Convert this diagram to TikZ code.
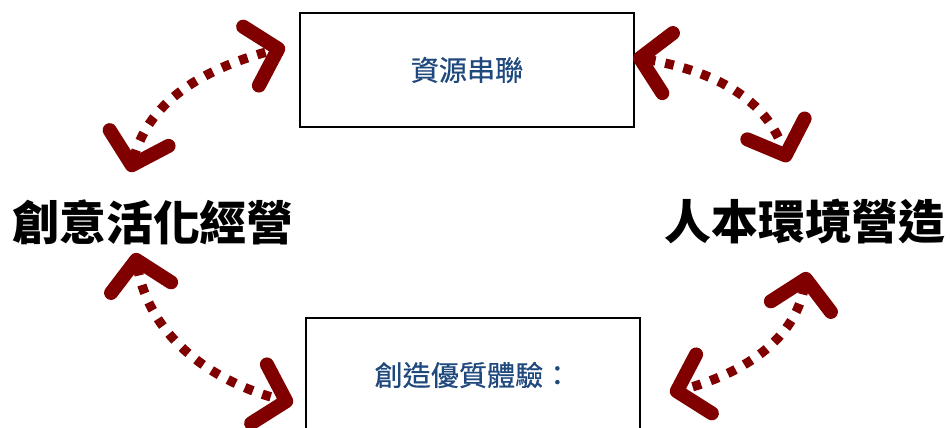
\documentclass[tikz,border=0pt]{standalone}
\usepackage{fontspec}
\newfontfamily\cjk{Noto Sans CJK TC}
\newfontfamily\cjkmed[FakeBold=0.6]{Noto Sans CJK TC}
\usetikzlibrary{arrows.meta}
\definecolor{linkred}{RGB}{128,0,0}
\definecolor{boxblue}{RGB}{31,73,125}
\begin{document}
\begin{tikzpicture}[x=0.03cm,y=0.03cm,
    box/.style={draw,line width=1.7pt,minimum width=10.02cm,minimum height=3.42cm,
      inner sep=0pt,text=boxblue,font=\cjkmed\fontsize{24}{28}\selectfont},
    bigtext/.style={inner sep=0pt,font=\cjk\bfseries\fontsize{40}{46}\selectfont},
    tip/.tip={Straight Barb[length=24pt,width=52pt,line width=12pt 0,round]},
    link/.style={linkred,line width=8pt,dash pattern=on 7.5pt off 8.5pt,tip-tip}]
  \useasboundingbox (0,0) rectangle (950,428);
  \node[box] (res) at (467,358) {資源串聯};
  \node[box] (exp) at (473,53) {創造優質體驗：};
  \node[bigtext] (mgmt) at (153,206) {創意活化經營};
  \node[bigtext] (env) at (805,206) {人本環境營造};
  \coordinate (mgmt-top) at (130,256);
  \coordinate (mgmt-bot) at (135,175);
  \coordinate (env-top) at (788,266);
  \coordinate (env-bot) at (807,156);
  \coordinate (res-left) at (285,381);
  \coordinate (res-right) at (633,371);
  \coordinate (exp-left) at (293,25);
  \coordinate (exp-right) at (670,35);
  \draw[link] (mgmt-top) to[out=75,in=195] (res-left);
  \draw[link] (res-right) to[out=-10,in=110] (env-top);
  \draw[link] (mgmt-bot) to[out=-80,in=165] (exp-left);
  \draw[link] (env-bot) to[out=-100,in=15] (exp-right);
\end{tikzpicture}
\end{document}
